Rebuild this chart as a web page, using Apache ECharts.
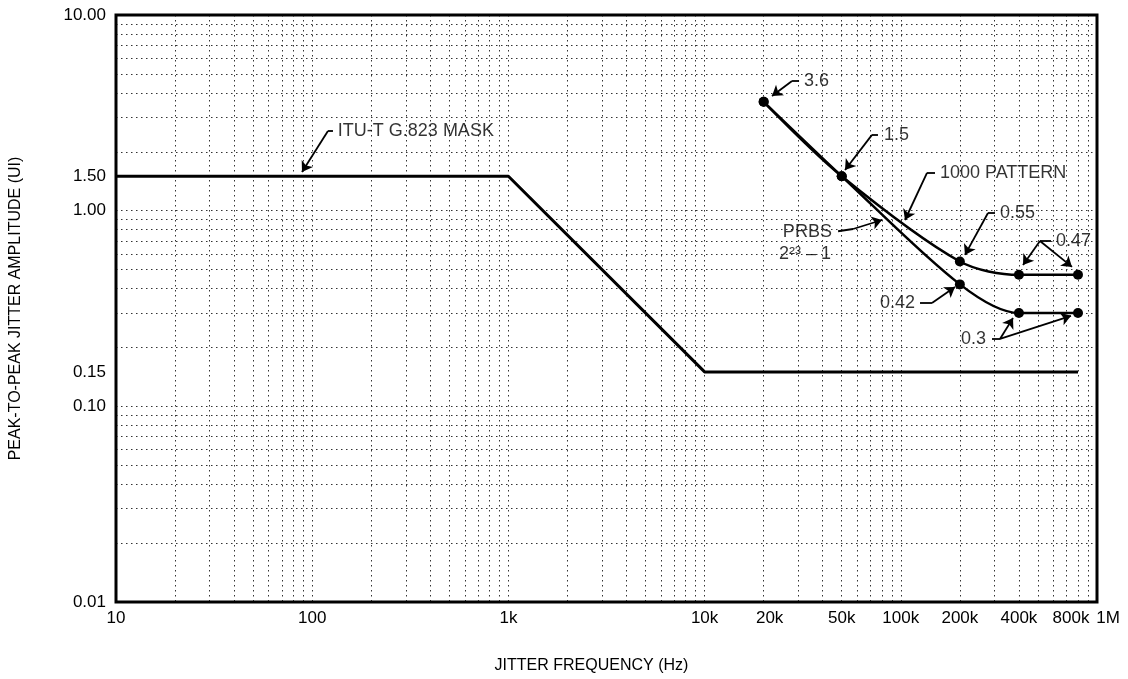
<!DOCTYPE html>
<html><head><meta charset="utf-8">
<script src="https://cdn.jsdelivr.net/npm/echarts@6/dist/echarts.min.js"></script>
<style>html,body{margin:0;padding:0;background:#fff}#c{width:1128px;height:679px}</style>
</head><body><div id="c"></div>
<script>
// ---- data ----
const xTickLabels = [10, 100, 1000, 10000, 20000, 50000, 100000, 200000, 400000, 800000, 1000000];
const yTickLabels = [0.01, 0.1, 0.15, 1, 1.5, 10];
const xGridValues = [10,20,30,40,50,60,70,80,90,100,200,300,400,500,600,700,800,900,
  1000,2000,3000,4000,5000,6000,7000,8000,9000,10000,20000,30000,40000,50000,60000,70000,80000,90000,
  100000,200000,300000,400000,500000,600000,700000,800000,900000,1000000];
const yGridValues = [0.01,0.02,0.03,0.04,0.05,0.06,0.07,0.08,0.09,0.1,0.2,0.3,0.4,0.5,0.6,0.7,0.8,0.9,
  1,2,3,4,5,6,7,8,9,10];

const maskFreq = [10, 1000, 10000, 800000];
const maskAmp  = [1.5, 1.5, 0.15, 0.15];

const curveFreq   = [20000, 50000, 200000, 400000, 800000];
const pattern1000 = [3.6, 1.5, 0.55, 0.47, 0.47];
const prbs        = [3.6, 1.5, 0.42, 0.3, 0.3];

// annotation texts (anchor in data coordinates)
const annotTexts = [
  {text: '3.6', at: [31400, 4.60], side: 'right'},
  {text: '1.5', at: [80200, 2.44], side: 'right'},
  {text: '1000 PATTERN', at: [154700, 1.56], side: 'right'},
  {text: 'PRBS', at: [45600, 0.78], side: 'left'},
  {text: '2²³ – 1', at: [45100, 0.600], side: 'left'},
  {text: '0.55', at: [312800, 0.973], side: 'right'},
  {text: '0.47', at: [603700, 0.70], side: 'right'},
  {text: '0.42', at: [120900, 0.3375], side: 'left'},
  {text: '0.3', at: [278200, 0.221], side: 'left'},
  {text: 'ITU-T G.823 MASK', at: [132, 2.555], side: 'right'}
];
const leaderSegs = [
  [[30300, 4.60], [27900, 4.60]],
  [[76500, 2.44], [71300, 2.44]],
  [[149400, 1.56], [136000, 1.56]],
  [[47900, 0.785], [57100, 0.806]],
  [[302000, 0.973], [278200, 0.973]],
  [[583000, 0.700], [512100, 0.700]],
  [[125300, 0.3375], [144200, 0.3375]],
  [[291600, 0.221], [320300, 0.221]],
  [[127.6, 2.555], [120.3, 2.555]]
];
const arrowSegs = [
  [[27900, 4.60], [22060, 3.856]],
  [[71300, 2.44], [51960, 1.614]],
  [[136000, 1.56], [105050, 0.896]],
  [[57100, 0.806], [80200, 0.896]],
  [[278200, 0.973], [212400, 0.594]],
  [[512100, 0.700], [419600, 0.528]],
  [[512100, 0.700], [745700, 0.516]],
  [[144200, 0.3375], [188900, 0.4076]],
  [[320300, 0.221], [373200, 0.283]],
  [[320300, 0.221], [737000, 0.290]],
  [[120.3, 2.555], [88.7, 1.577]]
];

// ---- chart ----
const FONT = '"Liberation Sans", Arial, Helvetica, sans-serif';
const chart = echarts.init(document.getElementById('c'), null, {renderer: 'canvas'});
const pair = (xs, ys) => xs.map((x, i) => [x, ys[i]]);

function fmtX(v) {
  v = Math.round(v);
  if (v >= 1000000) return '{rr|1M}';
  if (v >= 1000) {
    const s = Math.round(v / 1000) + 'k';
    if (v === 20000) return '{r|' + s + '}';
    if (v === 800000) return '{l|' + s + '}';
    return s;
  }
  return String(v);
}

const dotted = {color: '#333', width: 1, type: [1.5, 3.5]};
const TXT = '#000';

chart.setOption({
  animation: false,
  backgroundColor: '#fff',
  textStyle: {fontFamily: FONT},
  grid: {left: 116, right: 31, top: 15, bottom: 77, show: true, borderColor: '#000', borderWidth: 3, backgroundColor: 'transparent', z: 5},
  xAxis: {
    type: 'log', logBase: 10, min: 10, max: 1000000,
    name: 'JITTER FREQUENCY (Hz)', nameLocation: 'middle', nameGap: 56,
    nameTextStyle: {fontSize: 16, color: TXT, fontFamily: FONT, padding: [0, 30, 0, 0]},
    axisLine: {show: false},
    axisTick: {show: false, customValues: xGridValues},
    splitLine: {show: true, lineStyle: dotted},
    minorSplitLine: {show: false},
    axisLabel: {
      customValues: xTickLabels, formatter: fmtX, fontSize: 17, color: TXT, margin: 8, fontFamily: FONT,
      rich: {
        r: {fontSize: 17, color: TXT, padding: [0, 0, 0, 12], fontFamily: FONT},
        l: {fontSize: 17, color: TXT, padding: [0, 14, 0, 0], fontFamily: FONT},
        rr: {fontSize: 17, color: TXT, padding: [0, 0, 0, 22], fontFamily: FONT}
      }
    }
  },
  yAxis: {
    type: 'log', logBase: 10, min: 0.01, max: 10,
    name: 'PEAK-TO-PEAK JITTER AMPLITUDE (UI)', nameLocation: 'middle', nameGap: 92, nameRotate: 90,
    nameTextStyle: {fontSize: 16, color: TXT, fontFamily: FONT},
    axisLine: {show: false},
    axisTick: {show: false, customValues: yGridValues},
    splitLine: {show: true, lineStyle: dotted},
    axisLabel: {
      customValues: yTickLabels, formatter: v => Number(v).toFixed(2),
      fontSize: 17, color: TXT, margin: 10, fontFamily: FONT
    }
  },
  series: [
    {
      name: 'ITU-T G.823 MASK', type: 'line', data: pair(maskFreq, maskAmp),
      showSymbol: false, symbol: 'none', lineStyle: {color: '#000', width: 3}, z: 3
    },
    {
      name: '1000 PATTERN', type: 'line', data: pair(curveFreq, pattern1000),
      smooth: 0.3, symbol: 'circle', symbolSize: 10, showSymbol: true,
      itemStyle: {color: '#000'}, lineStyle: {color: '#000', width: 2.5}, z: 4
    },
    {
      name: 'PRBS 2^23-1', type: 'line', data: pair(curveFreq, prbs),
      smooth: 0.3, symbol: 'circle', symbolSize: 10, showSymbol: true,
      itemStyle: {color: '#000'}, lineStyle: {color: '#000', width: 2.5}, z: 4
    },
    {
      name: 'leaders', type: 'lines', coordinateSystem: 'cartesian2d', silent: true,
      symbol: 'none', lineStyle: {color: '#000', width: 1.8, opacity: 1, curveness: 0},
      data: leaderSegs.map(c => ({coords: c})), z: 6
    },
    {
      name: 'arrows', type: 'lines', coordinateSystem: 'cartesian2d', silent: true,
      symbol: ['none', 'arrow'], symbolSize: 10,
      lineStyle: {color: '#000', width: 1.8, opacity: 1, curveness: 0},
      itemStyle: {color: '#000'},
      data: arrowSegs.map(c => ({coords: c})), z: 6
    },
    {
      name: 'annotations', type: 'scatter', symbolSize: 0, silent: true, z: 7,
      data: annotTexts.map(a => ({
        value: a.at,
        label: {show: true, formatter: a.text, position: a.side, distance: 2,
          fontSize: 18, color: TXT, fontFamily: FONT}
      }))
    }
  ]
});
</script></body></html>
